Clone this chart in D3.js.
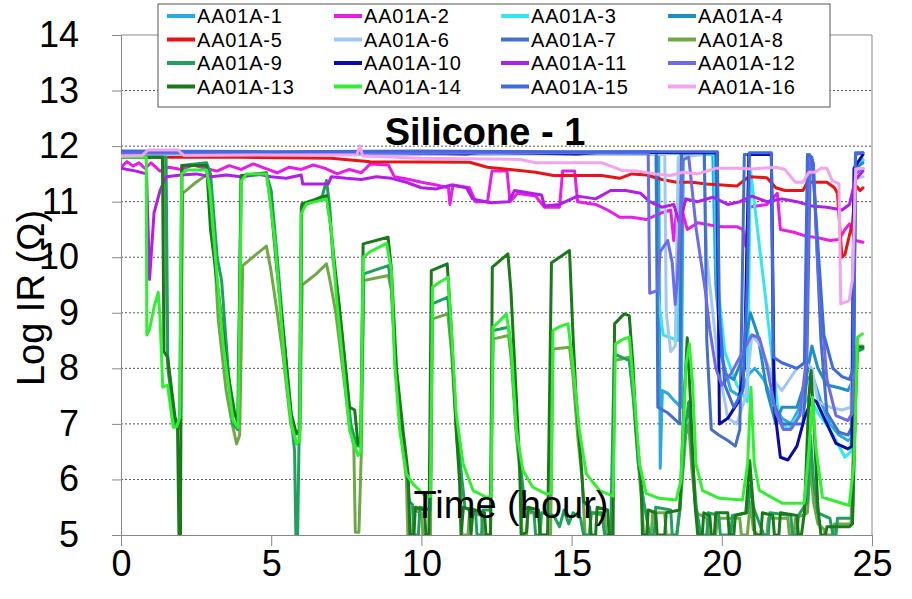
<!DOCTYPE html>
<html>
<head>
<meta charset="utf-8">
<title>Silicone - 1</title>
<style>
  html, body { margin: 0; padding: 0; background: #fff; }
  svg { display: block; font-family: "Liberation Sans", Arial, sans-serif; }
</style>
</head>
<body>
<svg id="chart" width="912" height="599"></svg>

<script src="https://cdnjs.cloudflare.com/ajax/libs/d3/7.8.5/d3.min.js"></script>
<script>

// series names, as in the legend
const seriesNames = ["AA01A-1", "AA01A-2", "AA01A-3", "AA01A-4",
                     "AA01A-5", "AA01A-6", "AA01A-7", "AA01A-8",
                     "AA01A-9", "AA01A-10", "AA01A-11", "AA01A-12",
                     "AA01A-13", "AA01A-14", "AA01A-15", "AA01A-16"];

const xTicks = [0, 5, 10, 15, 20, 25];
const yTicks = [5, 6, 7, 8, 9, 10, 11, 12, 13, 14];
const gridValues = [6, 7, 8, 9, 10, 11, 12, 13];

// [time (hour), log IR]
const aa01a_1 = [[0,11.87],[3,11.86],[6,11.88],[9,11.87],[12,11.86],[15,11.87],[17.9,11.86],[17.95,6.2],[18.02,7.6],[18.2,7.55],[18.45,7.4],[18.65,7.3],[18.72,11.85],[19.7,11.86],[19.8,9.5],[20.0,8.2],[20.3,7.6],[20.6,7.5],[20.9,7.9],[21.1,8.0],[21.4,7.8],[21.7,7.4],[22.0,7.1],[22.3,7.0],[22.6,7.3],[22.85,7.8],[23.0,7.9],[23.3,7.4],[23.6,7.0],[23.9,6.8],[24.2,6.7],[24.35,6.75],[24.45,11.7],[24.7,11.75]];

const aa01a_2 = [[0,11.62],[0.2,11.72],[0.4,11.64],[0.6,11.7],[0.8,11.6],[1.0,11.7],[1.3,11.55],[1.6,11.62],[2.0,11.58],[2.4,11.66],[2.8,11.6],[3.2,11.55],[3.6,11.65],[4.0,11.58],[4.4,11.68],[4.8,11.6],[5.2,11.52],[5.6,11.62],[6.0,11.58],[6.4,11.66],[6.8,11.6],[7.2,11.5],[7.6,11.58],[8.0,11.52],[8.3,11.68],[8.9,11.66],[9.1,11.45],[9.6,11.4],[10.0,11.35],[10.5,11.3],[10.9,11.25],[10.95,10.95],[11.05,11.3],[11.6,11.25],[11.8,11.0],[12.2,11.0],[12.35,11.55],[12.85,11.55],[12.95,11.0],[13.2,11.15],[13.8,11.1],[14.1,10.9],[14.6,10.9],[14.7,11.55],[15.1,11.55],[15.2,11.0],[15.8,10.95],[16.2,10.85],[16.6,10.72],[17.0,10.72],[17.5,10.68],[18.0,10.8],[18.3,10.85],[18.4,10.3],[18.5,10.9],[18.6,10.2],[18.7,10.8],[18.85,10.5],[19.2,10.62],[19.6,10.58],[20.0,10.55],[20.5,10.55],[20.7,10.5],[20.8,10.2],[20.9,10.9],[21.5,10.95],[21.85,11.15],[21.95,10.5],[22.4,10.45],[22.8,10.38],[23.2,10.35],[23.6,10.3],[23.9,10.32],[24.1,10.5],[24.25,10.6],[24.45,10.3],[24.7,10.27]];

const aa01a_3 = [[0,11.86],[4,11.87],[8,11.86],[12,11.87],[16,11.86],[17.8,11.86],[17.85,9.4],[18.05,8.6],[18.55,8.5],[18.62,11.85],[19.75,11.85],[19.85,9.6],[20.1,8.3],[20.5,7.7],[20.85,7.4],[20.95,11.6],[21.1,10.9],[21.45,9.3],[21.9,7.1],[22.2,6.9],[22.6,7.2],[22.9,7.5],[23.2,7.2],[23.6,6.9],[24.1,6.4],[24.3,6.5],[24.45,11.7],[24.7,11.75]];

const aa01a_4 = [[0,11.88],[5,11.87],[10,11.88],[15,11.87],[19.8,11.88],[19.9,8.6],[20.1,7.9],[20.4,7.8],[20.7,8.2],[20.95,9.0],[21.2,8.6],[21.5,7.6],[21.8,7.0],[22.0,7.3],[22.5,7.3],[22.8,7.8],[23.0,8.4],[23.2,8.0],[23.5,7.7],[23.9,7.65],[24.2,7.6],[24.38,7.8],[24.45,11.6],[24.7,11.7]];

const aa01a_5 = [[0,11.8],[4,11.8],[7,11.78],[8.3,11.72],[11.6,11.71],[12.2,11.62],[13.8,11.53],[14.4,11.47],[16,11.47],[16.6,11.42],[17.0,11.5],[17.5,11.48],[18.0,11.4],[18.5,11.35],[19.0,11.35],[19.5,11.32],[20.0,11.3],[20.5,11.28],[20.9,11.45],[21.5,11.43],[21.8,11.25],[22.1,11.2],[22.7,11.2],[22.85,11.35],[23.2,11.35],[23.5,11.35],[23.75,11.25],[23.85,11.15],[24.0,10.0],[24.1,10.05],[24.25,10.4],[24.35,10.6],[24.45,11.3],[24.6,11.2],[24.7,11.25]];

const aa01a_6 = [[0,11.85],[5,11.86],[10,11.85],[15,11.86],[18.1,11.85],[18.15,9.0],[18.3,8.3],[18.45,8.4],[18.55,11.8],[19.4,11.85],[19.5,10.0],[19.7,9.0],[19.9,8.0],[20.2,7.1],[20.5,7.0],[20.8,7.5],[21.0,8.6],[21.3,8.4],[21.7,7.8],[22.0,7.6],[22.5,8.0],[22.8,8.1],[23.0,8.0],[23.2,7.4],[23.6,7.3],[24.0,7.25],[24.3,7.3],[24.42,11.4],[24.7,11.45]];

const aa01a_7 = [[0,11.9],[5,11.89],[10,11.9],[15,11.89],[17.82,11.9],[17.87,7.3],[18.2,7.2],[18.5,7.05],[18.6,7.0],[18.66,11.88],[19.42,11.88],[19.5,8.5],[19.65,6.9],[19.9,6.8],[20.2,6.7],[20.45,6.6],[20.6,6.9],[20.75,11.85],[21.65,11.85],[21.72,7.4],[22.0,7.0],[22.7,7.0],[22.82,7.8],[22.95,11.8],[23.05,11.6],[23.3,8.5],[23.5,7.2],[23.9,6.85],[24.2,6.8],[24.38,7.0],[24.45,11.85],[24.7,11.88]];

const aa01a_8 = [[0,11.8],[1.45,11.8],[1.55,8.2],[1.8,7.0],[1.98,6.9],[2.05,11.15],[2.5,11.35],[2.9,11.5],[3.0,11.1],[3.24,8.86],[3.5,7.6],[3.7,7.0],[3.85,6.64],[3.95,6.8],[4.05,9.85],[4.5,10.05],[4.84,10.2],[4.98,9.8],[5.2,9.0],[5.4,8.2],[5.65,7.0],[5.85,6.64],[5.95,6.7],[6.03,9.5],[6.5,9.7],[6.84,9.88],[6.95,9.6],[7.15,9.0],[7.4,7.9],[7.6,7.0],[7.75,6.6],[7.8,5.05],[7.92,5.05],[8.0,6.5],[8.08,9.58],[8.9,9.67],[9.0,9.4],[9.15,7.9],[9.33,6.8],[9.5,6.0],[9.55,5.0],[9.7,5.0],[9.75,5.45],[10.0,5.4],[10.05,5.0],[10.3,5.0],[10.37,8.89],[10.88,8.98],[11.0,8.3],[11.16,6.9],[11.3,5.9],[11.35,5.0],[11.55,5.0],[11.6,5.4],[12.0,5.35],[12.05,5.0],[12.3,5.0],[12.39,8.53],[12.9,8.59],[13.0,8.1],[13.16,6.8],[13.3,6.0],[13.35,5.0],[13.5,5.0],[13.55,5.4],[13.9,5.4],[13.95,5.0],[14.3,5.0],[14.38,8.35],[14.93,8.38],[15.04,7.9],[15.2,6.8],[15.35,6.0],[15.45,5.0],[15.6,5.0],[15.65,5.4],[16.1,5.35],[16.15,5.0],[16.35,5.0],[16.43,8.14],[16.92,8.2],[17.06,7.4],[17.22,6.3],[17.35,5.5],[17.4,5.0],[17.65,5.0],[17.7,5.4],[18.1,5.4],[18.15,5.0],[18.5,5.0],[18.6,5.4],[18.8,6.8],[18.9,7.0],[19.0,6.2],[19.15,5.4],[19.5,5.3],[19.55,5.0],[19.8,5.0],[19.85,5.3],[20.6,5.3],[20.65,5.0],[20.85,5.0],[20.95,5.6],[21.05,5.1],[21.2,5.0],[21.5,5.0],[21.55,5.3],[22.2,5.3],[22.25,5.0],[22.4,5.0],[22.45,5.3],[22.85,5.4],[22.95,6.3],[23.05,5.6],[23.2,5.2],[23.4,5.1],[23.45,5.0],[23.7,5.0],[23.75,5.2],[24.3,5.2],[24.48,8.4],[24.7,8.4]];

const aa01a_9 = [[0,11.8],[1.5,11.8],[1.56,8.0],[1.8,6.95],[1.95,7.0],[2.02,11.65],[2.85,11.7],[2.98,11.5],[3.2,10.0],[3.35,9.58],[3.55,8.1],[3.72,7.0],[3.88,6.9],[4.0,11.45],[4.84,11.5],[5.0,11.2],[5.2,10.0],[5.4,8.7],[5.65,7.2],[5.78,6.5],[5.82,5.0],[5.88,5.0],[5.93,6.8],[6.0,10.9],[6.7,11.1],[6.84,11.38],[6.95,10.9],[7.05,10.0],[7.25,9.2],[7.45,8.1],[7.65,7.0],[7.85,6.6],[7.98,6.6],[8.08,9.7],[8.9,9.85],[9.0,9.5],[9.15,8.0],[9.33,6.9],[9.52,6.1],[9.6,5.6],[9.7,5.55],[9.75,5.0],[9.9,5.0],[9.95,5.5],[10.3,5.45],[10.36,9.16],[10.88,9.28],[11.0,8.5],[11.16,7.0],[11.35,6.0],[11.45,5.5],[11.8,5.45],[11.85,5.0],[12.0,5.0],[12.05,5.45],[12.3,5.45],[12.38,8.68],[12.9,8.74],[13.0,8.3],[13.16,6.9],[13.35,6.0],[13.45,5.5],[13.75,5.4],[13.8,5.0],[13.95,5.0],[14.0,5.4],[14.4,5.35],[14.6,5.15],[14.75,5.45],[14.9,5.2],[15.05,5.4],[15.3,5.3],[15.4,5.0],[15.6,5.0],[15.65,5.4],[16.0,5.4],[16.1,5.0],[16.3,5.0],[16.42,8.26],[16.92,8.14],[17.06,7.5],[17.22,6.3],[17.4,5.6],[17.6,5.0],[17.75,5.0],[17.8,5.5],[18.3,5.45],[18.35,5.0],[18.5,5.0],[18.6,5.5],[18.8,7.0],[18.9,7.4],[19.0,6.5],[19.15,5.5],[19.3,5.0],[19.5,5.0],[19.55,5.4],[19.9,5.35],[19.95,5.0],[20.3,5.0],[20.35,5.35],[20.85,5.4],[20.95,5.9],[21.05,5.5],[21.4,5.0],[21.55,5.0],[21.6,5.4],[22.3,5.35],[22.35,5.0],[22.5,5.0],[22.55,5.35],[22.85,5.6],[22.95,6.8],[23.05,6.0],[23.2,5.4],[23.6,5.3],[23.7,5.0],[23.8,5.0],[23.85,5.3],[24.35,5.3],[24.5,8.3],[24.7,8.35]];

const aa01a_10 = [[0,11.89],[4,11.88],[8,11.9],[11.5,11.86],[12,11.89],[15.2,11.86],[16,11.89],[19.85,11.88],[19.92,7.0],[20.2,7.1],[20.55,7.4],[20.75,8.0],[20.9,11.85],[21.65,11.85],[21.75,7.3],[21.95,6.4],[22.2,6.35],[22.5,6.6],[22.75,7.1],[23.0,7.45],[23.15,7.4],[23.5,7.0],[23.8,6.65],[24.2,6.55],[24.33,6.6],[24.4,11.6],[24.7,11.85]];

const aa01a_11 = [[0,11.6],[0.5,11.55],[0.85,11.5],[0.95,9.6],[1.1,10.8],[1.3,11.2],[1.5,11.45],[2.0,11.48],[2.5,11.5],[3.0,11.45],[3.5,11.48],[4.0,11.45],[4.5,11.5],[5.0,11.45],[5.5,11.42],[6.0,11.48],[6.05,11.32],[6.9,11.32],[7.0,11.45],[7.5,11.42],[8.0,11.4],[8.5,11.45],[9.0,11.42],[9.5,11.35],[10.0,11.25],[10.5,11.23],[11.0,11.3],[11.5,11.25],[11.7,11.05],[12.3,10.98],[12.9,11.0],[13.1,11.2],[14.0,11.12],[14.1,10.92],[14.6,10.95],[15.2,11.1],[15.8,11.05],[16.3,11.2],[16.8,11.2],[17.3,11.15],[17.6,11.0],[18.0,10.9],[18.4,10.95],[18.6,10.6],[18.8,11.05],[19.2,11.0],[19.7,11.08],[20.2,10.95],[20.6,11.0],[21.0,11.1],[21.5,11.0],[22.0,11.05],[22.5,11.0],[23.0,10.92],[23.5,10.9],[24.0,10.85],[24.25,10.95],[24.45,11.4],[24.7,11.55]];

const aa01a_12 = [[0,11.87],[5,11.88],[10,11.87],[15,11.88],[17.55,11.87],[17.6,9.35],[17.85,9.4],[17.95,10.1],[18.2,10.3],[18.35,9.9],[18.45,9.15],[18.52,9.6],[18.7,11.75],[18.9,11.8],[19.15,10.5],[19.45,9.4],[19.6,8.7],[19.8,8.0],[20.0,7.7],[20.3,7.9],[20.6,8.2],[21.0,8.6],[21.25,8.55],[21.5,8.05],[21.8,7.2],[22.05,6.9],[22.3,6.9],[22.6,7.15],[22.82,8.2],[22.92,11.85],[23.05,11.7],[23.2,9.8],[23.5,7.8],[23.8,7.15],[24.2,7.06],[24.35,7.2],[24.45,11.5],[24.7,11.6]];

const aa01a_13 = [[0,11.8],[1.38,11.8],[1.43,8.3],[1.55,8.2],[1.8,7.12],[1.88,7.0],[1.93,5.0],[1.98,5.0],[2.03,11.65],[2.85,11.65],[2.98,10.5],[3.29,9.16],[3.51,8.08],[3.79,7.18],[3.9,7.0],[4.0,11.47],[4.84,11.52],[5.0,10.9],[5.17,9.88],[5.4,8.68],[5.67,7.18],[5.84,6.82],[5.95,6.9],[6.02,10.96],[6.84,11.11],[6.95,10.7],[7.17,9.58],[7.35,8.68],[7.61,7.3],[7.78,7.25],[7.89,6.64],[7.98,6.7],[8.06,10.24],[8.89,10.36],[9.0,9.8],[9.17,8.0],[9.39,6.88],[9.56,6.1],[9.62,5.0],[9.75,5.0],[9.8,5.5],[10.1,5.45],[10.15,5.0],[10.25,5.0],[10.33,9.76],[10.86,9.88],[11.0,8.68],[11.16,6.88],[11.27,5.98],[11.32,5.0],[11.4,5.5],[11.6,5.45],[11.65,5.0],[11.72,5.45],[12.1,5.4],[12.15,5.0],[12.3,5.0],[12.36,9.82],[12.88,10.06],[12.98,9.4],[13.16,7.48],[13.27,6.28],[13.32,5.0],[13.5,5.05],[13.55,5.5],[13.9,5.45],[13.95,5.0],[14.2,5.0],[14.33,9.9],[14.93,10.12],[15.04,8.68],[15.15,7.48],[15.32,6.28],[15.4,5.6],[15.6,5.5],[15.65,5.0],[15.8,5.0],[15.85,5.5],[16.2,5.45],[16.25,5.0],[16.38,5.0],[16.43,8.8],[16.75,8.98],[16.92,8.95],[17.04,8.08],[17.15,6.88],[17.31,5.98],[17.36,5.0],[17.5,5.0],[17.55,5.45],[17.8,5.4],[17.85,5.0],[18.1,5.0],[18.15,5.4],[18.6,5.45],[18.75,7.5],[18.85,8.55],[18.95,7.5],[19.1,5.6],[19.2,5.0],[19.35,5.0],[19.4,5.4],[19.6,5.35],[19.65,5.0],[19.75,5.0],[19.8,5.4],[20.2,5.4],[20.25,5.0],[20.4,5.0],[20.45,5.35],[20.8,5.4],[20.93,6.34],[21.05,5.5],[21.1,5.0],[21.3,5.0],[21.35,5.4],[21.7,5.35],[21.75,5.0],[21.9,5.0],[21.95,5.4],[22.5,5.35],[22.55,5.0],[22.65,5.0],[22.75,5.4],[22.9,7.5],[22.97,7.96],[23.05,7.2],[23.2,5.5],[23.3,5.0],[23.45,5.0],[23.5,5.15],[24.25,5.15],[24.35,5.2],[24.45,7.5],[24.52,8.38],[24.7,8.38]];

const aa01a_14 = [[0,11.8],[0.84,11.8],[0.86,8.6],[0.95,8.7],[1.1,9.1],[1.24,9.37],[1.3,8.9],[1.39,7.66],[1.55,7.7],[1.74,6.94],[1.85,6.95],[1.96,7.12],[2.02,11.5],[2.2,11.57],[2.85,11.57],[2.96,11.2],[3.18,9.76],[3.4,8.44],[3.57,7.72],[3.73,7.06],[3.9,6.94],[4.01,11.38],[4.18,11.5],[4.84,11.5],[4.95,11.08],[5.12,10.3],[5.29,9.16],[5.45,8.08],[5.67,7.0],[5.84,6.64],[5.95,6.7],[6.0,10.78],[6.17,10.96],[6.84,11.05],[7.0,10.48],[7.17,9.28],[7.39,8.08],[7.61,6.88],[7.89,6.43],[7.98,6.5],[8.06,10.0],[8.3,10.1],[8.84,10.25],[9.0,9.76],[9.11,8.08],[9.28,6.88],[9.5,6.1],[9.72,5.92],[9.94,5.8],[10.17,5.68],[10.3,5.7],[10.37,9.46],[10.6,9.55],[10.89,9.64],[11.0,8.68],[11.16,7.18],[11.39,6.28],[11.72,5.8],[12.16,5.68],[12.32,5.7],[12.38,8.74],[12.6,8.85],[12.83,8.98],[12.99,8.38],[13.16,6.88],[13.38,6.16],[13.71,5.86],[14.16,5.74],[14.32,5.75],[14.38,8.68],[14.6,8.75],[14.88,8.8],[15.04,8.08],[15.26,6.88],[15.49,6.1],[15.93,5.8],[16.38,5.7],[16.46,8.44],[16.7,8.52],[16.92,8.56],[17.09,7.48],[17.26,6.28],[17.48,5.75],[17.92,5.66],[18.48,5.63],[18.64,5.98],[18.81,8.08],[18.92,8.44],[19.03,7.72],[19.14,6.28],[19.36,5.8],[19.92,5.66],[20.69,5.63],[20.86,6.28],[20.97,7.66],[21.08,6.28],[21.25,5.8],[22.02,5.57],[22.74,5.57],[22.91,6.58],[23.02,7.48],[23.13,6.58],[23.35,5.68],[24.24,5.53],[24.4,6.28],[24.52,8.56],[24.68,8.62]];

const aa01a_15 = [[0,11.91],[5,11.9],[10,11.91],[15,11.9],[19.85,11.9],[19.92,9.0],[20.1,7.7],[20.4,7.3],[20.7,7.6],[20.85,9.5],[20.92,11.88],[21.65,11.88],[21.72,8.2],[22.0,8.1],[22.5,8.0],[22.75,8.1],[22.85,11.85],[23.0,11.8],[23.15,10.6],[23.4,8.6],[23.7,8.0],[24.0,7.85],[24.25,7.8],[24.38,8.0],[24.45,11.88],[24.7,11.88]];

const aa01a_16 = [[0,11.82],[0.7,11.83],[0.9,11.93],[1.9,11.93],[2.1,11.83],[5,11.84],[7.85,11.84],[7.95,12.0],[8.05,11.82],[10,11.78],[13.3,11.76],[13.8,11.7],[16,11.7],[16.7,11.56],[17.2,11.55],[17.8,11.5],[18.3,11.47],[18.7,11.53],[19.2,11.5],[19.8,11.6],[20.5,11.6],[21.0,11.59],[21.8,11.62],[22.1,11.58],[22.45,11.35],[22.7,11.35],[22.9,11.53],[23.1,11.53],[23.3,11.6],[23.5,11.6],[23.68,11.38],[23.9,11.32],[23.96,9.16],[24.24,9.22],[24.35,9.6],[24.46,11.59],[24.7,11.6]];

const allSeries = [aa01a_1, aa01a_2, aa01a_3, aa01a_4, aa01a_5, aa01a_6, aa01a_7, aa01a_8,
                   aa01a_9, aa01a_10, aa01a_11, aa01a_12, aa01a_13, aa01a_14, aa01a_15, aa01a_16];

const lineColors = ["#29A9E0", "#E61EE6", "#33E6F0", "#1E8FC4",
                    "#E81414", "#A2C8F0", "#4470C8", "#70A848",
                    "#1FA05E", "#0A0AA6", "#B21EE8", "#6C6CE8",
                    "#1A7A1A", "#33EE33", "#4169E1", "#F4A4EE"];

const svg = d3.select("#chart");

const x = d3.scaleLinear().domain([0, 25]).range([121, 872]);
const y = d3.scaleLinear().domain([5, 14]).range([535, 35]);

svg.append("defs").append("clipPath")
   .attr("id", "plotclip")
   .append("rect")
   .attr("x", 121).attr("y", 35)
   .attr("width", 751).attr("height", 500);

// dashed gridlines
svg.append("g")
   .selectAll("line")
   .data(gridValues)
   .enter()
   .append("line")
   .attr("x1", x(0)).attr("x2", x(25))
   .attr("y1", d => y(d)).attr("y2", d => y(d))
   .style("stroke", "#555")
   .style("stroke-width", 1)
   .style("stroke-dasharray", "2,2");

// frame top/right
svg.append("line")
   .attr("x1", x(0)).attr("x2", x(25)).attr("y1", y(14)).attr("y2", y(14))
   .style("stroke", "#888");
svg.append("line")
   .attr("x1", x(25)).attr("x2", x(25)).attr("y1", y(14)).attr("y2", y(5))
   .style("stroke", "#888");

const yAxis = svg.append("g")
   .attr("transform", "translate(" + x(0) + ",0)")
   .call(d3.axisLeft(y).tickValues(yTicks).tickSize(9).tickPadding(33));

const xAxis = svg.append("g")
   .attr("transform", "translate(0," + y(5) + ")")
   .call(d3.axisBottom(x).tickValues(xTicks).tickSize(11).tickPadding(4));

[yAxis, xAxis].forEach(g => {
  g.select(".domain").style("stroke", "#888");
  g.selectAll(".tick line").style("stroke", "#888");
  g.selectAll("text")
   .style("font-family", "'Liberation Sans', Arial, sans-serif")
   .style("font-size", "36px")
   .style("fill", "#000");
});

const line = d3.line()
   .x(d => x(d[0]))
   .y(d => y(d[1]));

svg.append("g")
   .attr("clip-path", "url(#plotclip)")
   .selectAll("path")
   .data(allSeries)
   .enter()
   .append("path")
   .attr("d", line)
   .style("fill", "none")
   .style("stroke", (d, i) => lineColors[i])
   .style("stroke-width", 3)
   .style("stroke-linejoin", "round")
   .style("stroke-linecap", "round");

// title and axis labels
svg.append("text")
   .attr("x", 485).attr("y", 145)
   .attr("text-anchor", "middle")
   .style("font-size", "38px")
   .style("font-weight", "bold")
   .text("Silicone - 1");

svg.append("text")
   .attr("x", 511).attr("y", 518)
   .attr("text-anchor", "middle")
   .style("font-size", "38px")
   .text("Time (hour)");

svg.append("text")
   .attr("transform", "translate(44,298) rotate(-90)")
   .attr("text-anchor", "middle")
   .style("font-size", "38px")
   .text("Log IR (\u03A9)");

// legend
const legend = svg.append("g");
legend.append("rect")
   .attr("x", 158).attr("y", 4)
   .attr("width", 672).attr("height", 103)
   .style("fill", "#fff")
   .style("stroke", "#555");

const items = legend.selectAll("g.item")
   .data(seriesNames)
   .enter()
   .append("g")
   .attr("class", "item")
   .attr("transform", (d, i) =>
     "translate(" + (167 + (i % 4) * 167) + "," + (16 + Math.floor(i / 4) * 23.5) + ")");

items.append("line")
   .attr("x1", 0).attr("x2", 28)
   .style("stroke", (d, i) => lineColors[i])
   .style("stroke-width", 4);

items.append("text")
   .attr("x", 30)
   .attr("dy", "0.36em")
   .style("font-size", "20px")
   .style("letter-spacing", "0.8px")
   .text(d => d);

</script>
</body>
</html>
